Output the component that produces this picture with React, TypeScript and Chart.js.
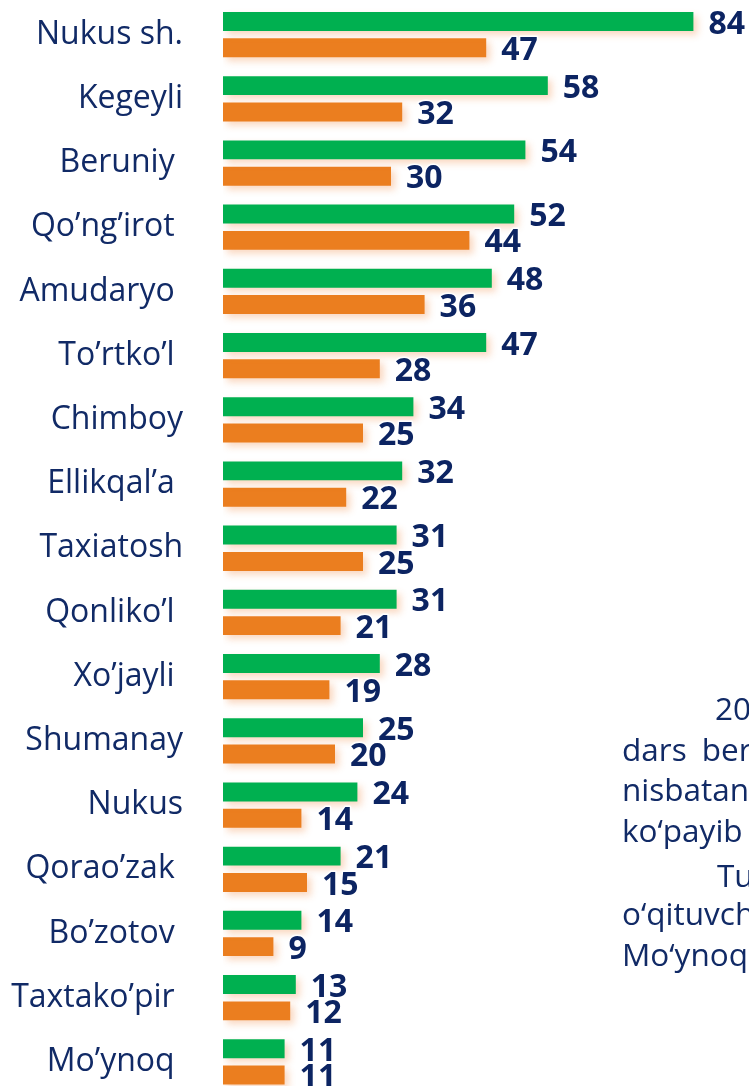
import React, { useEffect, useRef } from "react";
import { Chart, registerables } from "chart.js";

Chart.register(...registerables);

const categories = [
  "Nukus sh.",
  "Kegeyli",
  "Beruniy ",
  "Qo’ng’irot ",
  "Amudaryo ",
  "To’rtko’l ",
  "Chimboy",
  "Ellikqal’a ",
  "Taxiatosh",
  "Qonliko’l ",
  "Xo’jayli ",
  "Shumanay",
  "Nukus",
  "Qorao’zak ",
  "Bo’zotov ",
  "Taxtako’pir ",
  "Mo’ynoq ",
];
const greenValues = [84, 58, 54, 52, 48, 47, 34, 32, 31, 31, 28, 25, 24, 21, 14, 13, 11];
const orangeValues = [47, 32, 30, 44, 36, 28, 25, 22, 25, 21, 19, 20, 14, 15, 9, 12, 11];

const sideLines = [
  { text: "20", left: 715, baseline: 720 },
  { text: "dars ber", left: 622, baseline: 761, wordSpacing: 7 },
  { text: "nisbatan", left: 622, baseline: 801 },
  { text: "ko‘payib", left: 622, baseline: 842 },
  { text: "Tu", left: 717, baseline: 887 },
  { text: "o‘qituvch", left: 622, baseline: 925 },
  { text: "Mo‘ynoq", left: 622, baseline: 966 },
];

const GREEN = "#00B050";
const ORANGE = "#EB7E1F";
const NAVY = "#0C2462";
const TEXT_NAVY = "#112A66";

const barDecor = {
  id: "barDecor",
  beforeDatasetsDraw(chart: any) {
    const ctx = chart.ctx;
    ctx.save();
    ctx.shadowColor = "rgba(237,125,49,0.30)";
    ctx.shadowBlur = 7;
    ctx.shadowOffsetX = 4;
    ctx.shadowOffsetY = 4;
  },
  afterDatasetsDraw(chart: any) {
    const ctx = chart.ctx;
    ctx.restore();
    ctx.save();
    ctx.font = "bold 32px 'Open Sans'";
    ctx.textBaseline = "middle";
    ctx.textAlign = "left";
    ctx.lineJoin = "round";
    [1, 0].forEach((di) => {
      const meta = chart.getDatasetMeta(di);
      const data = chart.data.datasets[di].data;
      meta.data.forEach((bar: any, i: number) => {
        const t = String(data[i]);
        const x = bar.x + 15;
        const y = bar.y + 3;
        ctx.lineWidth = 3;
        ctx.strokeStyle = "#ffffff";
        ctx.strokeText(t, x, y);
        ctx.fillStyle = NAVY;
        ctx.fillText(t, x, y);
      });
    });
    ctx.restore();
  },
};

export default function App() {
  const canvasRef = useRef<HTMLCanvasElement | null>(null);

  useEffect(() => {
    if (!canvasRef.current) return;
    const chart = new Chart(canvasRef.current, {
      type: "bar",
      data: {
        labels: categories,
        datasets: [
          { data: greenValues, backgroundColor: GREEN, borderWidth: 0 },
          { data: orangeValues, backgroundColor: ORANGE, borderWidth: 0 },
        ],
      },
      options: {
        animation: false,
        responsive: false,
        indexAxis: "y",
        layout: { padding: { top: 2.5, bottom: 6, left: 0, right: 22 } },
        datasets: { bar: { categoryPercentage: 0.82, barPercentage: 0.72 } },
        plugins: { legend: { display: false }, tooltip: { enabled: false } },
        scales: {
          x: { display: false, min: 0, max: 90 },
          y: {
            grid: { display: false, drawTicks: false },
            border: { display: false },
            ticks: {
              padding: 40,
              autoSkip: false,
              color: TEXT_NAVY,
              font: { family: "'Open Sans'", size: 32 },
            },
            afterFit: (s: any) => {
              s.width = 223;
              s.paddingTop = 0;
              s.paddingBottom = 0;
            },
          },
        },
      } as any,
      plugins: [barDecor],
    });
    return () => chart.destroy();
  }, []);

  return (
    <div
      style={{
        position: "absolute",
        left: 0,
        top: 0,
        width: 749,
        height: 1086,
        overflow: "hidden",
        background: "#ffffff",
      }}
    >
      <canvas
        ref={canvasRef}
        width={749}
        height={1100}
        style={{ position: "absolute", left: 0, top: 0, width: 749, height: 1100, display: "block" }}
      />
      {sideLines.map((l, i) => (
        <div
          key={i}
          style={{
            position: "absolute",
            left: l.left,
            top: l.baseline - 28,
            fontFamily: "'Open Sans'",
            fontSize: 31.5,
            lineHeight: "31.5px",
            color: TEXT_NAVY,
            whiteSpace: "nowrap",
            wordSpacing: l.wordSpacing ? l.wordSpacing : 0,
          }}
        >
          {l.text}
        </div>
      ))}
    </div>
  );
}
